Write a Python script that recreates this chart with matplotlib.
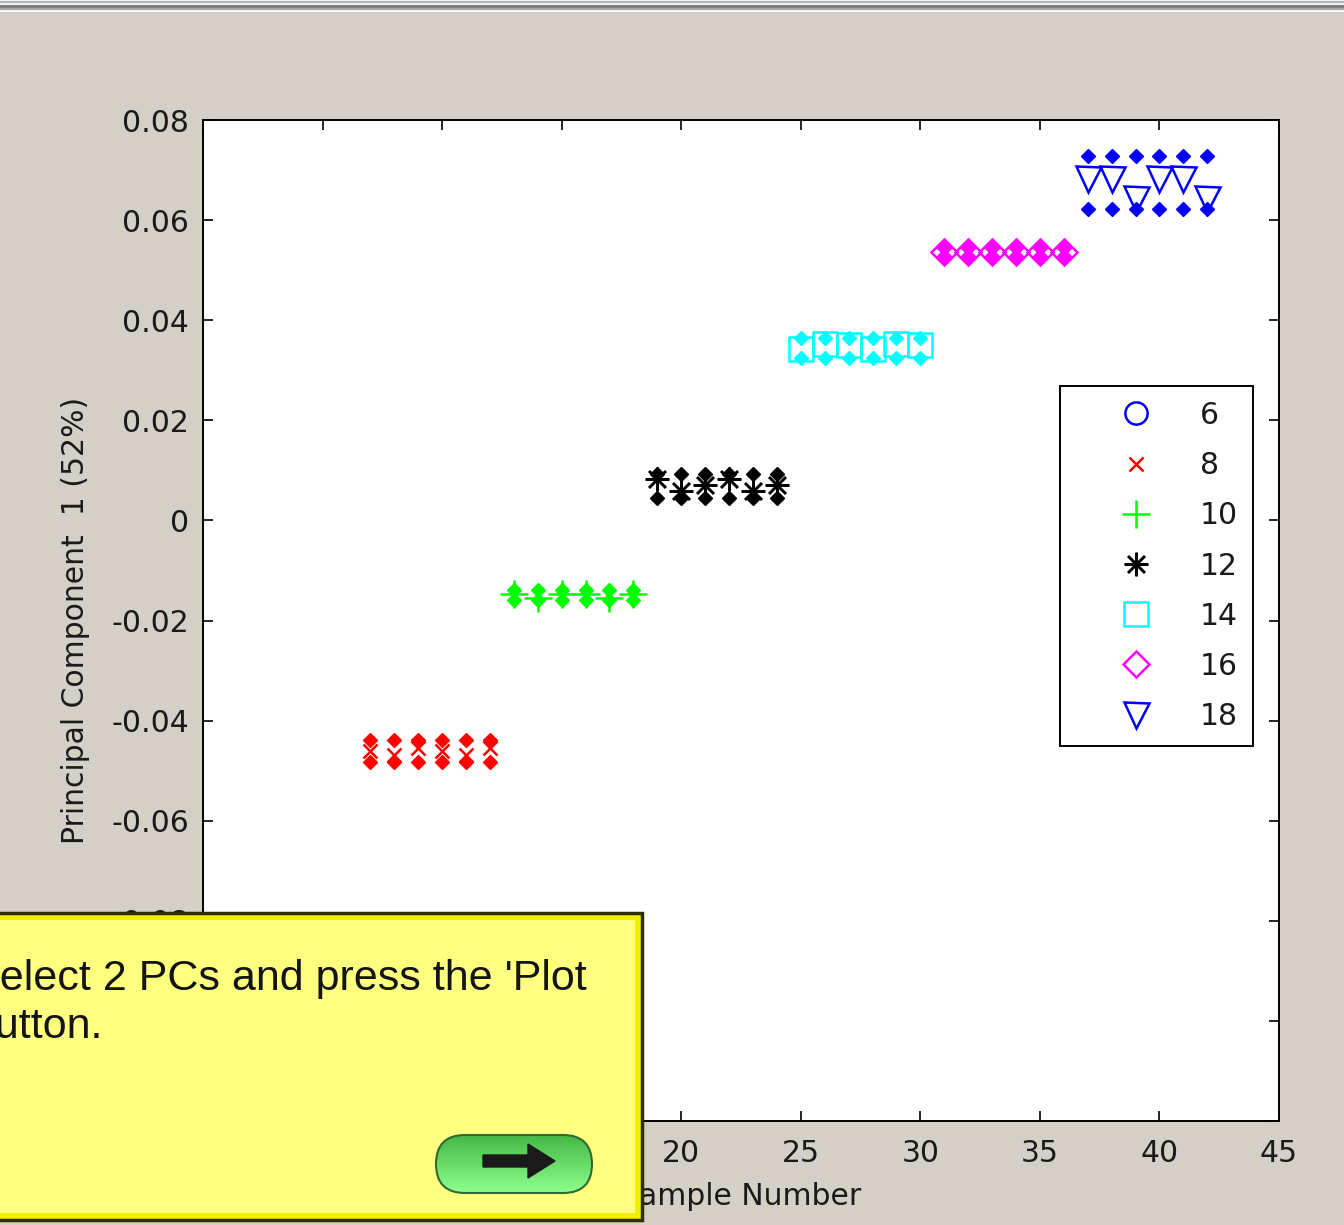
import numpy as np
import matplotlib
matplotlib.use("Agg")
import matplotlib.pyplot as plt
from matplotlib.patches import Rectangle, FancyBboxPatch, Polygon

plt.rcParams['axes.unicode_minus'] = False
plt.rcParams['font.family'] = ['DejaVu Sans']

# ---- data -------------------------------------------------------------
classes = [6, 8, 10, 12, 14, 16, 18]
sample_numbers = [
    [1, 2, 3, 4, 5, 6],
    [7, 8, 9, 10, 11, 12],
    [13, 14, 15, 16, 17, 18],
    [19, 20, 21, 22, 23, 24],
    [25, 26, 27, 28, 29, 30],
    [31, 32, 33, 34, 35, 36],
    [37, 38, 39, 40, 41, 42],
]
pc1_center = [
    [-0.0980, -0.0990, -0.0970, -0.0980, -0.0990, -0.0970],
    [-0.0460, -0.0468, -0.0455, -0.0460, -0.0468, -0.0455],
    [-0.0148, -0.0156, -0.0148, -0.0148, -0.0156, -0.0148],
    [0.0082, 0.0058, 0.0070, 0.0082, 0.0058, 0.0070],
    [0.0342, 0.0352, 0.0350, 0.0342, 0.0352, 0.0350],
    [0.0536, 0.0536, 0.0536, 0.0536, 0.0536, 0.0536],
    [0.0682, 0.0682, 0.0642, 0.0682, 0.0682, 0.0642],
]
pc1_high = [
    [-0.0960, -0.0960, -0.0960, -0.0960, -0.0960, -0.0960],
    [-0.0438, -0.0438, -0.0438, -0.0438, -0.0438, -0.0438],
    [-0.0140, -0.0140, -0.0140, -0.0140, -0.0140, -0.0140],
    [0.0092, 0.0092, 0.0092, 0.0092, 0.0092, 0.0092],
    [0.0364, 0.0364, 0.0364, 0.0364, 0.0364, 0.0364],
    [0.0545, 0.0545, 0.0545, 0.0545, 0.0545, 0.0545],
    [0.0728, 0.0728, 0.0728, 0.0728, 0.0728, 0.0728],
]
pc1_low = [
    [-0.1000, -0.1000, -0.1000, -0.1000, -0.1000, -0.1000],
    [-0.0482, -0.0482, -0.0482, -0.0482, -0.0482, -0.0482],
    [-0.0160, -0.0160, -0.0160, -0.0160, -0.0160, -0.0160],
    [0.0044, 0.0044, 0.0044, 0.0044, 0.0044, 0.0044],
    [0.0324, 0.0324, 0.0324, 0.0324, 0.0324, 0.0324],
    [0.0528, 0.0528, 0.0528, 0.0528, 0.0528, 0.0528],
    [0.0622, 0.0622, 0.0622, 0.0622, 0.0622, 0.0622],
]
x_ticks = [0, 5, 10, 15, 20, 25, 30, 35, 40, 45]
y_ticks = [-0.12, -0.10, -0.08, -0.06, -0.04, -0.02, 0.0, 0.02, 0.04, 0.06, 0.08]
y_tick_labels = ['-0.12', '-0.1', '-0.08', '-0.06', '-0.04', '-0.02', '0',
                 '0.02', '0.04', '0.06', '0.08']

# ---- styles -----------------------------------------------------------
colors = ['#0000FF', '#FF0000', '#00FF00', '#000000', '#00FFFF', '#FF00FF', '#0000FF']
markers = ['o', 'x', '+', (8, 2, 0), 's', 'D', 'v']
msizes = [16, 10, 20, 17, 17, 13, 18]

W, H = 1344, 1225
fig = plt.figure(figsize=(W / 100, H / 100), dpi=100, facecolor='#D4D0C8')

ax_l, ax_r, ax_t, ax_b = 203, 1279, 120, 1121
ax = fig.add_axes([ax_l / W, 1 - ax_b / H, (ax_r - ax_l) / W, (ax_b - ax_t) / H])
ax.set_facecolor('white')

handles = []
for k, cls in enumerate(classes):
    xs = sample_numbers[k]
    ax.plot(xs, pc1_high[k], linestyle='none', marker='D', ms=7,
            color=colors[k], mec=colors[k], zorder=3)
    ax.plot(xs, pc1_low[k], linestyle='none', marker='D', ms=7,
            color=colors[k], mec=colors[k], zorder=3)
    h, = ax.plot(xs, pc1_center[k], linestyle='none', marker=markers[k],
                 ms=msizes[k], mfc='none', mec=colors[k], mew=1.8,
                 label=str(cls), zorder=4)
    handles.append(h)

ax.set_xlim(0, 45)
ax.set_ylim(-0.12, 0.08)
ax.set_xticks(x_ticks)
ax.set_yticks(y_ticks)
ax.set_yticklabels(y_tick_labels)
ax.tick_params(direction='in', top=True, right=True, length=7, width=1.2,
               labelsize=21.5, pad=10, colors='black', labelcolor='#1a1a1a')
ax.tick_params(axis='x', pad=13)
for s in ax.spines.values():
    s.set_linewidth(1.4)

ax.set_ylabel('Principal Component  1 (52%)', fontsize=21.5, color='#1a1a1a')
ax.yaxis.set_label_coords((90 - ax_l) / (ax_r - ax_l), 0.5)
ax.set_xlabel('Sample Number', fontsize=21.5, color='#1a1a1a')
ax.xaxis.set_label_coords(0.5, (ax_b - 1182) / (ax_b - ax_t))

leg = ax.legend(handles=handles, loc='upper right',
                bbox_to_anchor=((1253 - ax_l) / (ax_r - ax_l), (ax_b - 386) / (ax_b - ax_t)),
                borderaxespad=0, fontsize=21.5, frameon=True, fancybox=False,
                framealpha=1, edgecolor='black', handlelength=4.1,
                handletextpad=0.1, borderpad=0.5, labelspacing=0.71,
                numpoints=1)
leg.get_frame().set_linewidth(1.4)
for t in leg.get_texts():
    t.set_color('#1a1a1a')

# ---- window chrome and help balloon (pixel coordinates) ---------------
ov = fig.add_axes([0, 0, 1, 1], zorder=10)
ov.set_xlim(0, W)
ov.set_ylim(H, 0)
ov.axis('off')

stripes = [(0, 1, '#F4F4F4'), (1, 3, '#B4B4B4'), (3, 5, '#EEEEEE'),
           (5, 8, '#7E7E7E'), (8, 10, '#A8A8A8'), (10, 12, '#F6F6F6')]
for y0, y1, c in stripes:
    ov.add_patch(Rectangle((0, y0), W, y1 - y0, facecolor=c, edgecolor='none'))

# help balloon
ov.add_patch(Rectangle((-10, 913), 652, 307, facecolor='#F0F000',
                       edgecolor='#2E2E00', linewidth=2.5))
ov.add_patch(Rectangle((-10, 920), 645, 293, facecolor='#FFFF80',
                       edgecolor='none'))
ov.text(-29, 990, "Select 2 PCs and press the 'Plot", fontsize=31,
        family='Liberation Sans', color='#141414', va='baseline', ha='left')
ov.text(-29, 1038, "button.", fontsize=31,
        family='Liberation Sans', color='#141414', va='baseline', ha='left')

# green arrow button
btn = FancyBboxPatch((436, 1135), 156, 58,
                     boxstyle='round,pad=0,rounding_size=29',
                     facecolor='none', edgecolor='#2F6B2F', linewidth=1.5, zorder=3)
ov.add_patch(btn)
grad = np.linspace(0, 1, 64).reshape(-1, 1)
img = ov.imshow(grad, extent=(436, 592, 1193, 1135), origin='lower',
                cmap=matplotlib.colors.LinearSegmentedColormap.from_list(
                    'btn', ['#8CFF8C', '#45B945']),
                aspect='auto', zorder=2)
img.set_clip_path(btn)
arrow = Polygon([(483, 1155), (528, 1155), (528, 1144), (555, 1161),
                 (528, 1178), (528, 1167), (483, 1167)], closed=True,
                facecolor='#1A1A1A', edgecolor='#1A1A1A', linewidth=1, zorder=4)
ov.add_patch(arrow)

fig.savefig('out.png', dpi=100, facecolor=fig.get_facecolor())
